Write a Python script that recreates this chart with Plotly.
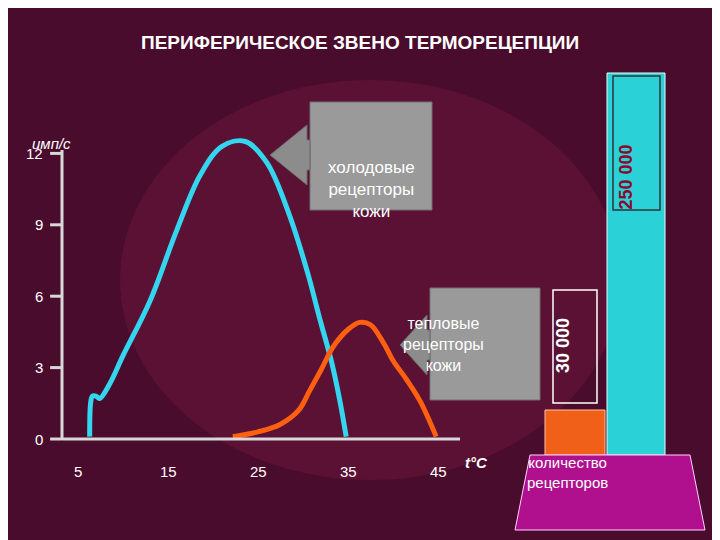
import plotly.graph_objects as go

# cold receptors: temperature (C) vs impulses/s
cold_t = [6.3, 6.4, 6.6, 7.0, 7.4, 8.5, 10, 13, 16, 18.6, 21, 23.6, 26, 28.5, 30.5, 31.9, 33.2, 34.1, 34.8]
cold_v = [0.1, 1.5, 1.8, 1.8, 1.7, 2.3, 3.5, 5.8, 8.8, 11.1, 12.3, 12.5, 11.6, 9.4, 7.0, 5.0, 3.2, 1.6, 0.1]
# warm receptors
warm_t = [22.2, 25, 27.4, 29.5, 30.7, 32, 33.4, 35, 36.3, 37.5, 39, 40, 41.5, 43, 44.8]
warm_v = [0.1, 0.3, 0.6, 1.2, 2.0, 2.9, 3.9, 4.6, 4.9, 4.8, 4.0, 3.3, 2.5, 1.6, 0.1]
y_ticks = [0, 3, 6, 9, 12]
x_ticks = [5, 15, 25, 35, 45]
counts = ["30 000", "250 000"]

OFF = 8  # page body margin
W, H = 720 - OFF, 540 - OFF
def px(x): return (x - OFF) / W
def py(y): return 1 - (y - OFF) / H

fig = go.Figure()
fig.add_trace(go.Scatter(x=cold_t, y=cold_v, mode="lines", line=dict(color="#33d6ee", width=5, shape="spline")))
fig.add_trace(go.Scatter(x=warm_t, y=warm_v, mode="lines", line=dict(color="#ff6010", width=5, shape="spline")))

shapes = []
# soft lighter glow in background
shapes.append(dict(type="circle", xref="paper", yref="paper", x0=px(120), x1=px(620), y0=py(480), y1=py(80),
                   fillcolor="rgba(120,30,70,0.35)", line=dict(width=0), layer="below"))
# axis lines
shapes.append(dict(type="line", xref="paper", yref="paper", x0=px(62), x1=px(62), y0=py(150), y1=py(440),
                   line=dict(color="#d8d8d8", width=3)))
shapes.append(dict(type="line", xref="paper", yref="paper", x0=px(62), x1=px(460), y0=py(439), y1=py(439),
                   line=dict(color="#d8d8d8", width=3)))
for v in y_ticks:
    shapes.append(dict(type="line", xref="x", yref="y", x0=1.9, x1=3.2, y0=v, y1=v,
                       line=dict(color="#d8d8d8", width=3)))
# receptor count bars
shapes.append(dict(type="rect", xref="paper", yref="paper", x0=px(607), x1=px(665), y0=py(455), y1=py(73),
                   fillcolor="#2ad2d8", line=dict(color="#e0ffff", width=1)))
shapes.append(dict(type="rect", xref="paper", yref="paper", x0=px(545), x1=px(605), y0=py(455), y1=py(410),
                   fillcolor="#f06018", line=dict(color="#ffc0a0", width=1)))
shapes.append(dict(type="rect", xref="paper", yref="paper", x0=px(553), x1=px(597), y0=py(403), y1=py(290),
                   fillcolor="rgba(0,0,0,0)", line=dict(color="#ffffff", width=1.5)))
shapes.append(dict(type="rect", xref="paper", yref="paper", x0=px(613), x1=px(660), y0=py(210), y1=py(76),
                   fillcolor="rgba(0,0,0,0)", line=dict(color="#333333", width=1.5)))
# trapezoid
shapes.append(dict(type="path", xref="paper", yref="paper",
                   path=f"M {px(530)} {py(455)} L {px(690)} {py(455)} L {px(705)} {py(530)} L {px(515)} {py(530)} Z",
                   fillcolor="#b0108e", line=dict(color="#ffd0ff", width=1)))
# arrow boxes
def arrow(x0, x1, y0, y1, tip, ym):
    shapes.append(dict(type="rect", xref="paper", yref="paper", x0=px(x0), x1=px(x1), y0=py(y1), y1=py(y0),
                       fillcolor="#9a9a9a", line=dict(color="#707070", width=1)))
    shapes.append(dict(type="path", xref="paper", yref="paper",
                       path=(f"M {px(tip)} {py(ym)} L {px(x0-3)} {py(ym-30)} L {px(x0-3)} {py(ym-15)} "
                             f"L {px(x0)} {py(ym-15)} L {px(x0)} {py(ym+15)} L {px(x0-3)} {py(ym+15)} "
                             f"L {px(x0-3)} {py(ym+30)} Z"),
                       fillcolor="#8c8c8c", line=dict(color="#6a6a6a", width=1)))
arrow(310, 432, 102, 210, 270, 155)
arrow(430, 540, 288, 400, 400, 345)

ann = [
    dict(x=px(360), y=py(30), text="<b>ПЕРИФЕРИЧЕСКОЕ ЗВЕНО ТЕРМОРЕЦЕПЦИИ</b>", font=dict(size=19, color="white")),
    dict(x=px(30), y=py(133), text="<i>имп/с</i>", font=dict(size=15, color="white")),
    dict(x=px(476), y=py(473), text="<b><i>t°C</i></b>", font=dict(size=15, color="white")),
    dict(x=px(371), y=py(156), text="холодовые<br>рецепторы<br>кожи", font=dict(size=17, color="white")),
    dict(x=px(486), y=py(344), text="тепловые<br>рецепторы<br>кожи", font=dict(size=16, color="white")),
    dict(x=px(575), y=py(346), text="<b>" + counts[0] + "</b>", textangle=-90, font=dict(size=18, color="white")),
    dict(x=px(637), y=py(143), text="<b>" + counts[1] + "</b>", textangle=-90, font=dict(size=18, color="#8b0a2c")),
    dict(x=px(610), y=py(493), text="количество<br>рецепторов", font=dict(size=15, color="white")),
]
for a in ann:
    a.update(xref="paper", yref="paper", showarrow=False, font_family="Liberation Sans")

for v in y_ticks:
    ann.append(dict(x=1.3, y=v, xref="x", yref="y", text=str(v), showarrow=False, xanchor="right",
                    font=dict(size=15, color="white", family="Liberation Sans")))
for t in x_ticks:
    ann.append(dict(x=t, y=-1.35, xref="x", yref="y", text=str(t), showarrow=False,
                    font=dict(size=15, color="white", family="Liberation Sans")))

fig.update_layout(
    width=W, height=H, margin=dict(l=0, r=0, t=0, b=0), showlegend=False,
    paper_bgcolor="#4a0c2c", plot_bgcolor="rgba(0,0,0,0)",
    xaxis=dict(domain=[0, 1], range=[5 - (78 - OFF) / 9, 5 + (720 - 78) / 9], visible=False),
    yaxis=dict(domain=[0, 1], range=[-101 / 23.8, (439 - OFF) / 23.8], visible=False),
    shapes=shapes, annotations=ann,
)
fig.write_html("out.html")
